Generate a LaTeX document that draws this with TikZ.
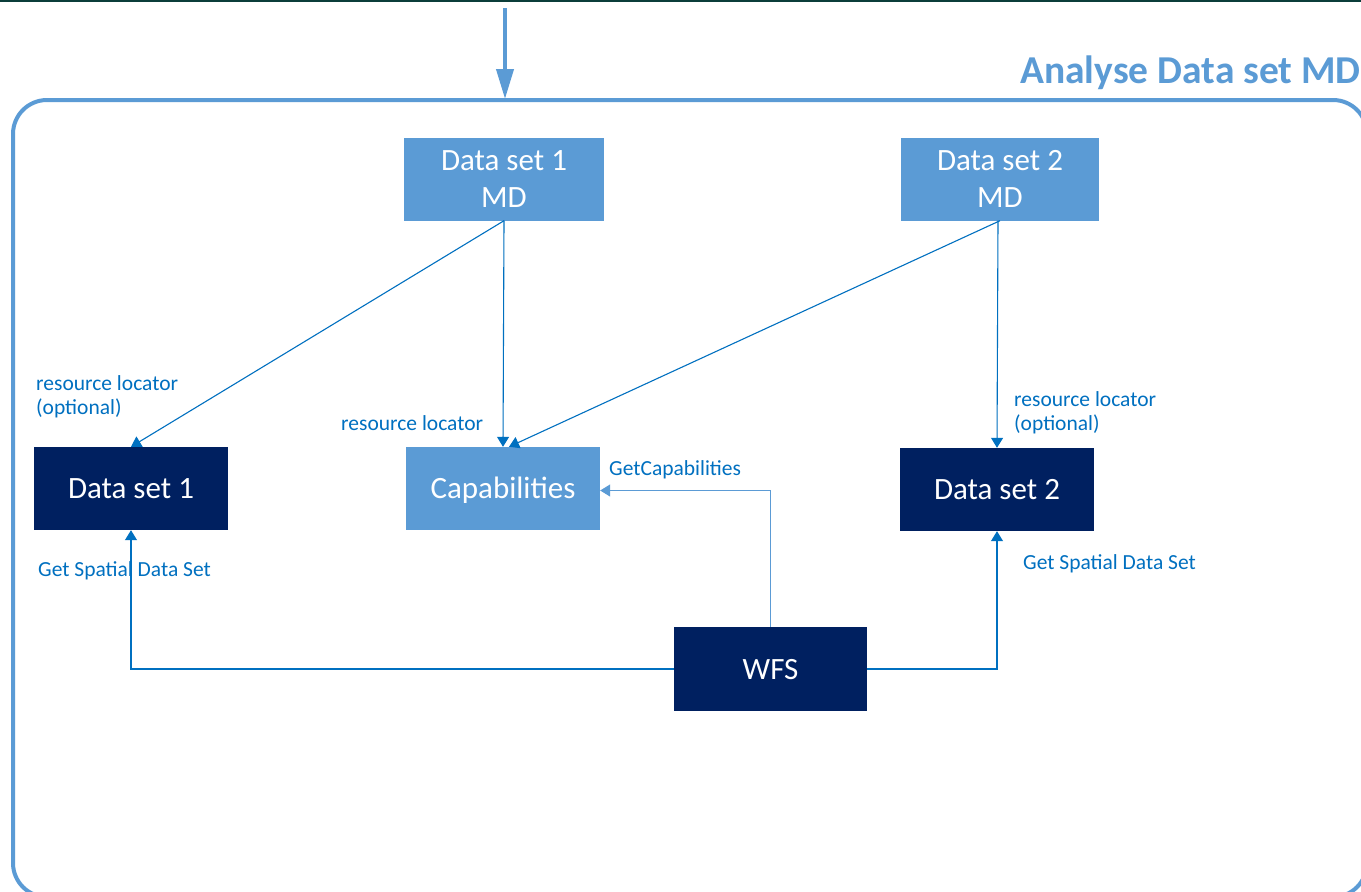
\documentclass[tikz,border=0pt]{standalone}
\usepackage{fontspec}
\setmainfont{Carlito}
\usetikzlibrary{arrows.meta}
\definecolor{lblue}{HTML}{5B9BD5}
\definecolor{navy}{HTML}{002060}
\definecolor{mblue}{HTML}{0070C0}
\definecolor{topline}{HTML}{0B3D3A}
\tikzset{
  box/.style={minimum width=196pt, minimum height=83pt, inner sep=0pt, text=white, font=\fontsize{31}{37.5}\selectfont, align=center},
  onebox/.style={text height=20pt, text depth=0pt},
  mdbox/.style={box, fill=lblue},
  dsbox/.style={box, fill=navy},
  lbl/.style={text=mblue, font=\fontsize{21.5}{23.5}\selectfont, inner sep=0pt, align=left},
  conn/.style={draw=mblue, line width=1.1pt, -{Triangle[length=10pt,width=12pt]}},
}
\begin{document}
\begin{tikzpicture}[x=1pt,y=-1pt]
\useasboundingbox (0,0) rectangle (1361,892);
\fill[white] (0,0) rectangle (1361,892);
\fill[topline] (0,0) rectangle (1361,2);
\begin{scope}
\clip (0,0) rectangle (1361,892);
\draw[lblue, line width=4pt, rounded corners=34pt] (13,100) rectangle (1367,897);
\end{scope}
\coordinate (top) at (505,8);
\coordinate (frame) at (505,99);
\draw[lblue, line width=4pt, -{Triangle[length=30pt,width=17pt]}] (top) -- (frame);
\node[anchor=base east, text=lblue, font=\bfseries\fontsize{39.5}{46}\selectfont, inner sep=0pt] (title) at (1361,83) {Analyse Data set MD};

\node[mdbox, minimum width=200pt] (md1) at (504,179) {Data set 1\\MD};
\node[mdbox, minimum width=198pt] (md2) at (1000,179) {Data set 2\\MD};
\node[dsbox, onebox, minimum width=194pt] (ds1) at (131,488.5) {Data set 1};
\node[mdbox, onebox, minimum width=194pt] (cap) at (503,488.5) {Capabilities};
\node[dsbox, onebox, minimum width=194pt] (ds2) at (997,489.5) {Data set 2};
\node[dsbox, onebox, minimum width=193pt, minimum height=84pt] (wfs) at (770.5,669) {WFS};

\draw[conn] (md1.south) -- (ds1.north);
\draw[conn] (md1.south) -- (cap.north);
\draw[conn] (md2.south) -- ([xshift=6pt]cap.north);
\draw[conn] ([xshift=-2pt]md2.south) -- (ds2.north);
\draw[conn] (wfs.west) -| (ds1.south);
\draw[conn, draw=lblue] (wfs.north) |- ([yshift=-2pt]cap.east);
\draw[conn] (wfs.east) -| (ds2.south);

\node[lbl, anchor=base west] (l1) at (36,414) {resource locator\\(optional)};
\node[lbl, anchor=base west] (l2) at (341,430) {resource locator};
\node[lbl, anchor=base west] (l3) at (609,475) {GetCapabilities};
\node[lbl, anchor=base west] (l4) at (1014,430) {resource locator\\(optional)};
\node[lbl, anchor=base west] (l5) at (38,576) {Get Spatial Data Set};
\node[lbl, anchor=base west] (l6) at (1023,569) {Get Spatial Data Set};
\end{tikzpicture}
\end{document}
